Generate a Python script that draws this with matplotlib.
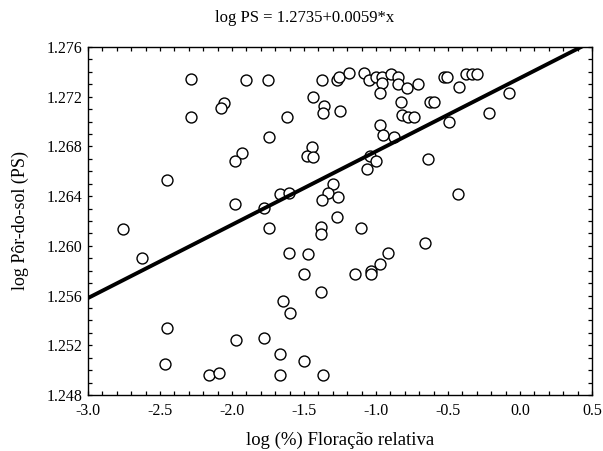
import numpy as np
import matplotlib
matplotlib.use("Agg")
import matplotlib.pyplot as plt
from matplotlib.ticker import MultipleLocator, FormatStrFormatter

# --- data ---
floracao = [
    -2.285, -1.903, -2.056, -2.076, -2.285, -1.931, -1.979, -2.451, -1.979,
    -1.750, -1.375, -1.271, -1.257, -1.188, -1.083, -1.049, -1.000, -0.958,
    -0.958, -0.972, -0.896, -0.847, -0.847, -0.785, -0.708, -0.826, -0.625,
    -1.438, -1.361, -1.368, -1.250, -1.618, -0.819, -0.778, -0.736, -0.972,
    -0.951, -0.875, -1.743, -1.444, -1.479, -1.438, -1.042, -1.000, -1.063,
    -0.639, -1.299, -1.333, -1.264, -1.375, -1.667, -1.604, -1.778, -1.271,
    -0.528, -0.507, -0.375, -0.333, -0.299, -0.424, -0.597, -0.076, -0.215,
    -0.493, -0.431, -2.757, -2.625, -2.451, -1.972, -2.465, -2.160, -2.090,
    -1.778, -1.743, -1.382, -1.382, -1.104, -0.660, -1.604, -1.472, -0.917,
    -0.972, -1.035, -1.035, -1.500, -1.146, -1.382, -1.646, -1.597, -1.667,
    -1.500, -1.667, -1.368,
]
por_do_sol = [
    1.27343, 1.27334, 1.27149, 1.27109, 1.27037, 1.26747, 1.26683, 1.26530, 1.26337,
    1.27334, 1.27334, 1.27334, 1.27359, 1.27391, 1.27391, 1.27334, 1.27359, 1.27359,
    1.27310, 1.27230, 1.27383, 1.27359, 1.27302, 1.27270, 1.27302, 1.27157, 1.27157,
    1.27198, 1.27125, 1.27069, 1.27085, 1.27037, 1.27053, 1.27037, 1.27037, 1.26972,
    1.26892, 1.26876, 1.26876, 1.26795, 1.26723, 1.26715, 1.26723, 1.26683, 1.26618,
    1.26699, 1.26498, 1.26425, 1.26393, 1.26369, 1.26417, 1.26425, 1.26305, 1.26232,
    1.27359, 1.27359, 1.27383, 1.27383, 1.27383, 1.27278, 1.27157, 1.27230, 1.27069,
    1.26997, 1.26417, 1.26136, 1.25902, 1.25339, 1.25243, 1.25049, 1.24961, 1.24977,
    1.25259, 1.26144, 1.26152, 1.26095, 1.26144, 1.26023, 1.25943, 1.25934, 1.25943,
    1.25854, 1.25800, 1.25774, 1.25774, 1.25774, 1.25629, 1.25556, 1.25460, 1.25130,
    1.25074, 1.24961, 1.24961,
]
intercept = 1.2735
slope = 0.0059
x_range = [-3.0, 0.5]
y_range = [1.248, 1.276]
title_text = "log PS = 1.2735+0.0059*x"
x_label = "log (%) Floração relativa"
y_label = "log Pôr-do-sol (PS)"

plt.rcParams['font.family'] = ['Liberation Serif', 'DejaVu Serif']

fig = plt.figure(figsize=(6.03, 4.51), dpi=100)
ax = fig.add_axes([88/603, 1-395/451, (592-88)/603, (395-47)/451])

ax.scatter(floracao, por_do_sol, s=62, facecolors='white', edgecolors='black',
           linewidths=1.0, zorder=3)

xl = np.array(x_range)
ax.plot(xl, intercept + slope * xl, color='black', lw=2.8, zorder=4,
        solid_capstyle='butt')

ax.set_xlim(*x_range)
ax.set_ylim(*y_range)
ax.xaxis.set_major_locator(MultipleLocator(0.5))
ax.xaxis.set_minor_locator(MultipleLocator(0.1))
ax.yaxis.set_major_locator(MultipleLocator(0.004))
ax.yaxis.set_minor_locator(MultipleLocator(0.001))
ax.xaxis.set_major_formatter(FormatStrFormatter('%.1f'))
ax.yaxis.set_major_formatter(FormatStrFormatter('%.3f'))
ax.tick_params(which='both', direction='in', top=True, right=True,
               length=3, width=0.9, labelsize=11.5)
ax.tick_params(axis='x', which='both', pad=6)
ax.tick_params(axis='y', which='both', pad=4)
for sp in ax.spines.values():
    sp.set_linewidth(1.0)

ax.set_xlabel(x_label, fontsize=13.5, labelpad=9)
ax.set_ylabel(y_label, fontsize=13, labelpad=13)
fig.text(305/603, 1-18/451, title_text, ha='center', va='center', fontsize=12)

fig.savefig("out.png", dpi=100)
